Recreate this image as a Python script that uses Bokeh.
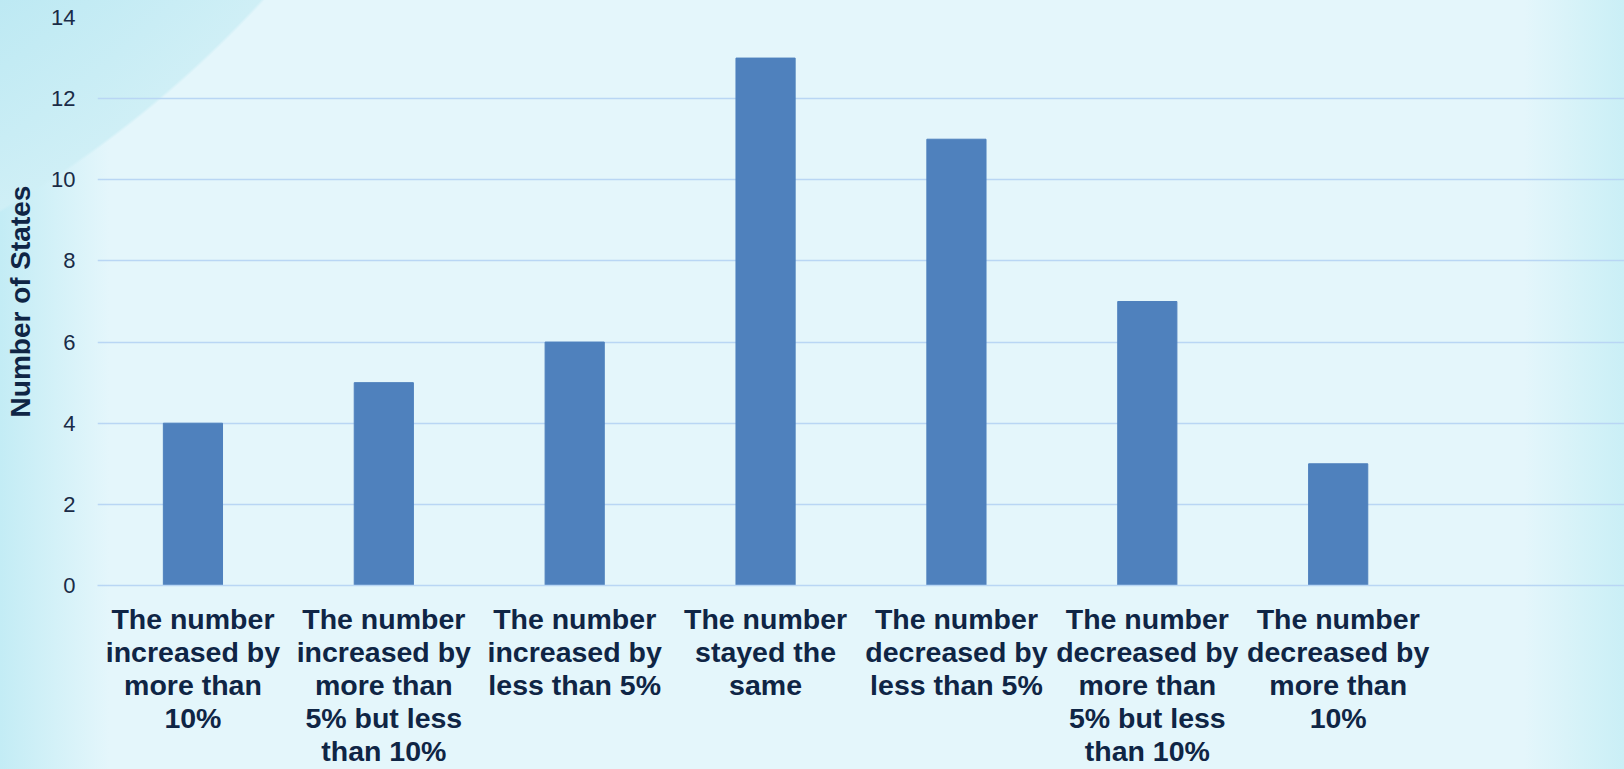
from bokeh.plotting import figure
from bokeh.models import FactorRange, Range1d, SingleIntervalTicker, ColumnDataSource
from bokeh.embed import file_html
from bokeh.resources import INLINE

# ---- data ----
categories = [
    "The number\nincreased by\nmore than\n10%",
    "The number\nincreased by\nmore than\n5% but less\nthan 10%",
    "The number\nincreased by\nless than 5%",
    "The number\nstayed the\nsame",
    "The number\ndecreased by\nless than 5%",
    "The number\ndecreased by\nmore than\n5% but less\nthan 10%",
    "The number\ndecreased by\nmore than\n10%",
]
spacer = [" "]
states = [4, 5, 6, 13, 11, 7, 3]
y_label = "Number of States"

TEXT = "#0f2545"
GRID = "#b9d6f4"
BAR = "#4f81bd"
FONT = "Liberation Sans"

source = ColumnDataSource(dict(cat=categories, n=states))

p = figure(
    x_range=FactorRange(factors=categories + spacer, range_padding=0),
    y_range=Range1d(0, 14),
    width=1624, height=769,
    output_backend="svg", toolbar_location=None,
    min_border_left=97, min_border_right=0, min_border_top=17, min_border_bottom=183,
)
p.vbar(x="cat", top="n", width=0.31, source=source,
       fill_color=BAR, line_color=BAR)

p.background_fill_alpha = 0
p.border_fill_alpha = 0
p.outline_line_color = None
p.styles = {
    "background": (
        "radial-gradient(circle 1131px at -568px -765px, #bde9f3 950px, #cfeff6 1128px, rgba(207,239,246,0) 1131px),"
        "linear-gradient(to right, #c3ecf5 0px, rgba(228,246,251,0) 110px),"
        "linear-gradient(to left, #caeff6 0px, rgba(228,246,251,0) 100px),"
        "#e4f6fb"
    ),
}

# grid
p.xgrid.grid_line_color = None
p.ygrid.grid_line_color = GRID
p.ygrid.grid_line_width = 1.6

# y axis
p.yaxis.ticker = SingleIntervalTicker(interval=2)
p.yaxis.axis_line_color = None
p.yaxis.major_tick_line_color = None
p.yaxis.minor_tick_line_color = None
p.yaxis.major_label_text_font = FONT
p.yaxis.major_label_text_font_size = "22px"
p.yaxis.major_label_text_color = "#1a2b47"
p.yaxis.major_label_standoff = 16
p.yaxis.axis_label = y_label
p.yaxis.axis_label_text_font = FONT
p.yaxis.axis_label_text_font_style = "bold"
p.yaxis.axis_label_text_font_size = "28px"
p.yaxis.axis_label_text_color = TEXT
p.yaxis.axis_label_standoff = 12

# x axis
p.xaxis.axis_line_color = GRID
p.xaxis.axis_line_width = 1.6
p.xaxis.major_tick_line_color = None
p.xaxis.minor_tick_line_color = None
p.xaxis.major_label_text_font = FONT
p.xaxis.major_label_text_font_style = "bold"
p.xaxis.major_label_text_font_size = "28.5px"
p.xaxis.major_label_text_color = TEXT
p.xaxis.major_label_text_line_height = 1.035
p.xaxis.major_label_standoff = 11

open("out.html", "w").write(file_html(p, INLINE))
